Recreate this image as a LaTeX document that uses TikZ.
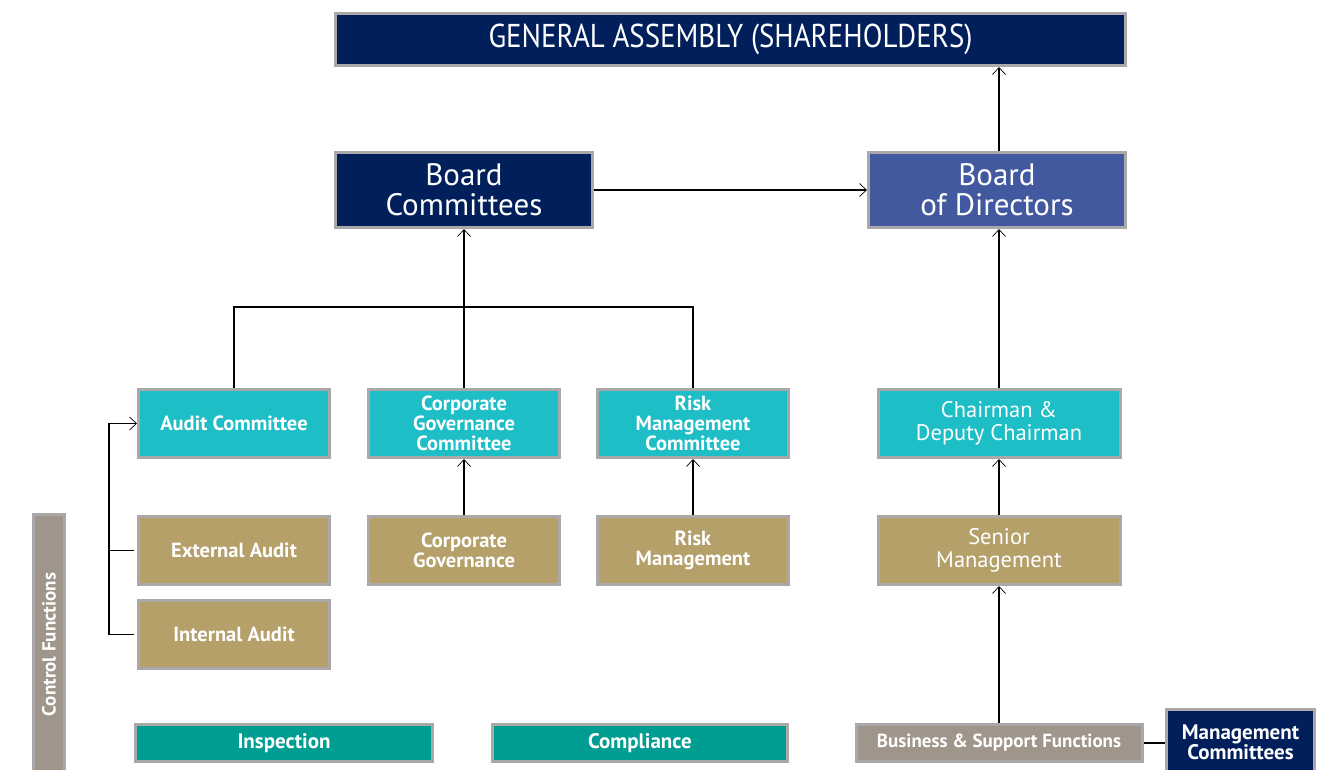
\documentclass[tikz,border=0pt]{standalone}
\usepackage{fontspec}
\setmainfont{PT Sans}
\newfontfamily\condfont[FakeStretch=0.875]{PT Sans}
\usetikzlibrary{arrows.meta}

\definecolor{navy}{RGB}{0,31,91}
\definecolor{boardblue}{RGB}{66,89,160}
\definecolor{cyanbox}{RGB}{30,190,199}
\definecolor{khaki}{RGB}{181,160,106}
\definecolor{tealbox}{RGB}{0,158,146}
\definecolor{taupe}{RGB}{160,149,138}
\definecolor{rim}{RGB}{170,168,168}

\tikzset{
  box/.style={draw=rim, line width=3pt, text=white, align=center, inner sep=0pt},
  bigtxt/.style={font=\fontsize{31}{30}\selectfont},
  boldtxt/.style={font=\bfseries\fontsize{20.5}{20}\selectfont},
  regtxt/.style={font=\fontsize{22.5}{23}\selectfont},
  link/.style={line width=1.1pt, draw=black},
  arr/.style={link, -{Straight Barb[length=7pt,width=13pt,line width=0.7pt]}},
}

\begin{document}
\begin{tikzpicture}[x=1pt, y=-1pt]
\useasboundingbox (0,0) rectangle (1325,770);

% top level
\node[box, fill=navy, minimum width=790, minimum height=52,
      font=\condfont\fontsize{33}{34}\selectfont] (ga) at (730.5,39.5) {GENERAL ASSEMBLY (SHAREHOLDERS)};
\node[box, fill=navy, bigtxt, minimum width=257, minimum height=75] (bc) at (464,190) {Board\\Committees};
\node[box, fill=boardblue, bigtxt, minimum width=257, minimum height=75] (bod) at (997,190) {Board\\of Directors};

% committees
\node[box, fill=cyanbox, boldtxt, minimum width=191, minimum height=68] (ac) at (234,423.5) {Audit Committee};
\node[box, fill=cyanbox, boldtxt, minimum width=191, minimum height=68] (cgc) at (464,423.5) {Corporate\\Governance\\Committee};
\node[box, fill=cyanbox, boldtxt, minimum width=191, minimum height=68] (rmc) at (693,423.5) {Risk\\Management\\Committee};
\node[box, fill=cyanbox, regtxt, minimum width=242, minimum height=68] (ch) at (999,423.5) {Chairman \&\\Deputy Chairman};

% functions
\node[box, fill=khaki, boldtxt, minimum width=191, minimum height=68] (ea) at (234,550.5) {External Audit};
\node[box, fill=khaki, boldtxt, minimum width=191, minimum height=68] (ia) at (234,634.5) {Internal Audit};
\node[box, fill=khaki, boldtxt, minimum width=191, minimum height=68] (cg) at (464,550.5) {Corporate\\Governance};
\node[box, fill=khaki, boldtxt, minimum width=191, minimum height=68] (rm) at (693,550.5) {Risk\\Management};
\node[box, fill=khaki, regtxt, minimum width=242, minimum height=68] (sm) at (999,550.5) {Senior\\Management};

% bottom row
\node[box, fill=taupe, rotate=90, font=\bfseries\fontsize{19}{20}\selectfont,
      minimum width=260, minimum height=31] (cf) at (49,644.5) {Control Functions};
\node[box, fill=tealbox, font=\bfseries\fontsize{21}{22}\selectfont,
      minimum width=297, minimum height=37] (insp) at (284,743) {Inspection};
\node[box, fill=tealbox, font=\bfseries\fontsize{21}{22}\selectfont,
      minimum width=295, minimum height=37] (comp) at (640,743) {Compliance};
\node[box, fill=taupe, font=\bfseries\fontsize{19}{20}\selectfont,
      minimum width=286, minimum height=37] (bsf) at (999,743) {Business \& Support Functions};
\node[box, fill=navy, font=\bfseries\fontsize{21}{20}\selectfont,
      minimum width=148, minimum height=65] (mc) at (1240.5,742) {Management\\Committees};

% connectors
\draw[arr] (bc.east) -- (bod.west);
\draw[arr] (ch.north |- bod.north) -- (ch.north |- ga.south);
\draw[arr] (ch.north) -- (ch.north |- bod.south);
\draw[arr] (sm.north) -- (ch.south);
\draw[arr] (bsf.north) -- (sm.south);
\draw[arr] (cg.north) -- (cgc.south);
\draw[arr] (rm.north) -- (rmc.south);
\draw[arr] (cgc.north) -- (bc.south);

\coordinate (bar) at (464,307);
\draw[link] (ac.north) |- (bar) -| (rmc.north);

\coordinate (brk) at (109,0);
\draw[arr] ([xshift=-3pt]ia.west) -- (ia.west -| brk) |- (ac.west);
\draw[link] ([xshift=-3pt]ea.west) -- (ea.west -| brk);

\draw[link] (bsf.east) -- (mc.west |- bsf.east);
\end{tikzpicture}
\end{document}
